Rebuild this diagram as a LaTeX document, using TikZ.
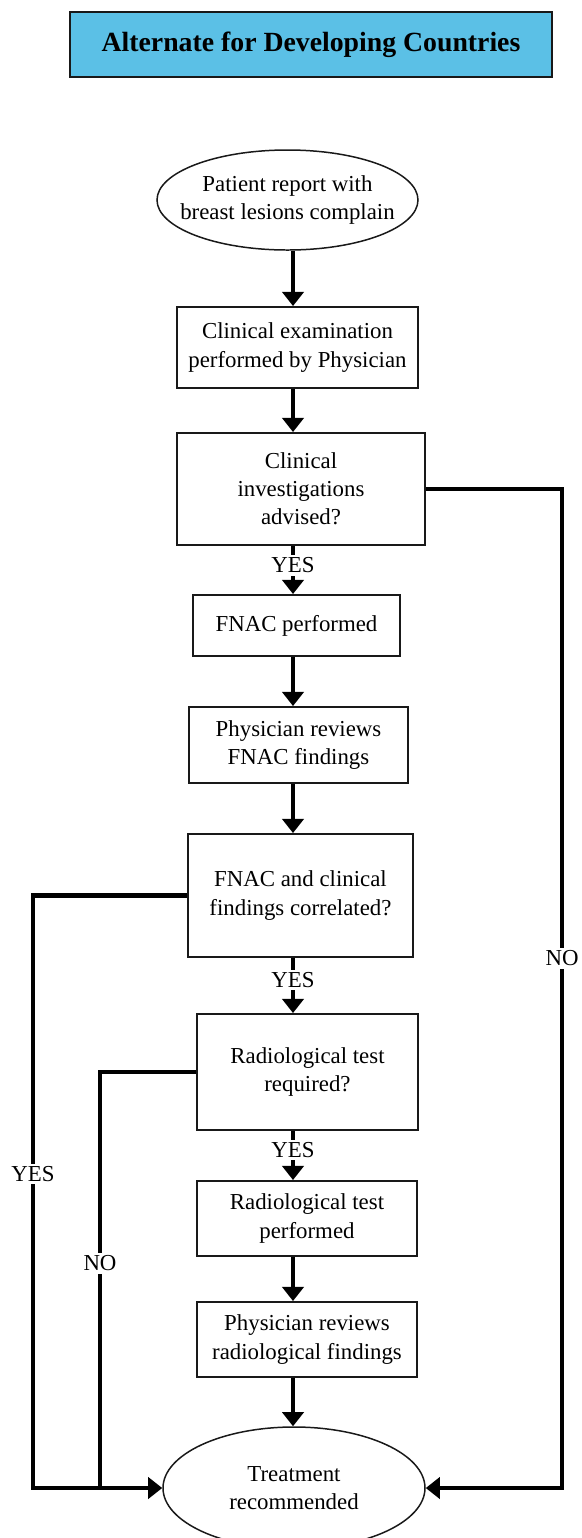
\documentclass[tikz,border=0pt]{standalone}
\usepackage{fontspec}
\setmainfont{Liberation Serif}
\usetikzlibrary{shapes.geometric,arrows.meta,positioning}
\definecolor{cabecera}{RGB}{91,192,230}
\tikzstyle{paso}=[draw=black!90, line width=1.1pt, text centered, align=center,
  font=\fontsize{13}{16}\selectfont, inner sep=2pt]
\tikzstyle{terminal}=[paso, ellipse, line width=0.85pt, inner xsep=-0.35cm,
  inner ysep=0pt]
\tikzstyle{titulo}=[draw=black!90, fill=cabecera, line width=1.2pt,
  font=\fontsize{15.8}{19}\selectfont\bfseries, minimum width=9.64cm,
  minimum height=1.3cm]
\tikzstyle{etiqueta}=[fill=white, inner sep=1.5pt, font=\fontsize{13}{16}\selectfont]
\tikzstyle{line}=[draw, line width=2.3pt, -{Triangle[width=12pt,length=8pt]}]
\tikzstyle{linea}=[draw, line width=2.3pt]
\newcommand{\paso}[4]{node (p#1) [paso, minimum width=#2, minimum height=#3] {#4}}

\begin{document}
\begin{tikzpicture}
  \useasboundingbox (0,0) rectangle (11.64,-30.76);

  % Draw diagram elements
  \path (6.22,-0.89) node (pTitulo) [titulo] {Alternate for Developing Countries};
  \path (5.75,-4.0) node (pInicio) [terminal, minimum width=5.22cm,
    minimum height=2cm] {Patient report with\\breast lesions complain};
  \path (5.95,-6.95) \paso{1}{4.82cm}{1.62cm}{Clinical examination\\performed by Physician};
  \path (6.02,-9.78) \paso{2}{4.96cm}{2.24cm}{Clinical\\investigations\\advised?};
  \path (5.93,-12.51) \paso{3}{4.14cm}{1.22cm}{FNAC performed};
  \path (5.97,-14.9) \paso{4}{4.38cm}{1.52cm}{Physician reviews\\FNAC findings};
  \path (6.01,-17.91) \paso{5}{4.5cm}{2.46cm}{FNAC and clinical\\findings correlated?};
  \path (6.15,-21.44) \paso{6}{4.42cm}{2.32cm}{Radiological test\\required?};
  \path (6.14,-24.37) \paso{7}{4.4cm}{1.5cm}{Radiological test\\performed};
  \path (6.14,-26.79) \paso{8}{4.4cm}{1.5cm}{Physician reviews\\radiological findings};
  \path (5.88,-29.76) node (pFin) [terminal, minimum width=5.24cm,
    minimum height=2.44cm] {Treatment\\recommended};

  % Guide lines for the arrows
  \coordinate (eje) at (5.86,0);
  \coordinate (ladoNo) at (11.24,0);
  \coordinate (ladoSi) at (0.66,0);
  \coordinate (ramaNo) at (2.0,0);

  % Draw arrows between elements
  \path [line] (pInicio.south -| eje) -- (p1.north -| eje);
  \path [line] (p1.south -| eje) -- (p2.north -| eje);
  \path [line] (p2.south -| eje) -- node [etiqueta, pos=0.4] {YES} (p3.north -| eje);
  \path [line] (p3.south -| eje) -- (p4.north -| eje);
  \path [line] (p4.south -| eje) -- (p5.north -| eje);
  \path [line] (p5.south -| eje) -- node [etiqueta, pos=0.4] {YES} (p6.north -| eje);
  \path [line] (p6.south -| eje) -- node [etiqueta, pos=0.39] {YES} (p7.north -| eje);
  \path [line] (p7.south -| eje) -- (p8.north -| eje);
  \path [line] (p8.south -| eje) -- (pFin.north -| eje);

  \path [line] (p2.east) -- (p2.east -| ladoNo)
    -- node [etiqueta, pos=0.47] {NO} (ladoNo |- pFin.east) -- (pFin.east);
  \path [line] (p5.west) -- (p5.west -| ladoSi)
    -- node [etiqueta, pos=0.47] {YES} (ladoSi |- pFin.west) -- (pFin.west);
  \path [linea] (p6.west) -- (p6.west -| ramaNo)
    -- node [etiqueta, pos=0.46] {NO} (ramaNo |- pFin.west);
\end{tikzpicture}
\end{document}
